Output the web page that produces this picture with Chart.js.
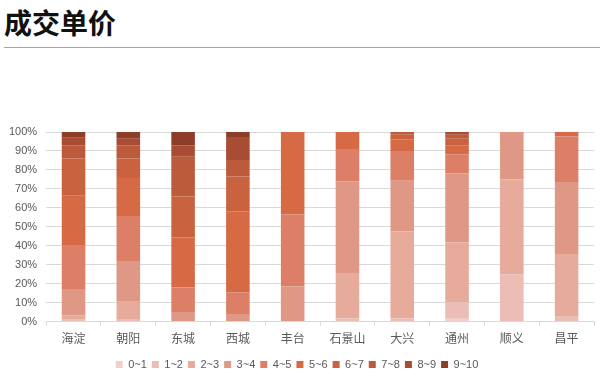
<!DOCTYPE html>
<html>
<head>
<meta charset="utf-8">
<script src="https://cdn.jsdelivr.net/npm/chart.js@4"></script>
<style>
    body { margin: 0; background: #fff; width: 600px; height: 388px; overflow: hidden; position: relative; }
    .titre {
        position: absolute; left: 4px; top: 4px; width: 596px; height: 43px;
        font: bold 28px 'Noto Sans CJK SC', sans-serif; color: #111;
        line-height: 36px; border-bottom: 1px solid #a6a6a6;
    }
    .zone { position: absolute; left: 0; top: 48px; width: 600px; height: 340px; }
</style>
</head>
<body>
<div class="titre">成交单价</div>
<div class="zone"><canvas id="prixChart"></canvas></div>
<script>
// Districts
const districts = ['海淀', '朝阳', '东城', '西城', '丰台', '石景山', '大兴', '通州', '顺义', '昌平'];
// Tranches de prix (légende)
const tranches = ['0~1', '1~2', '2~3', '3~4', '4~5', '5~6', '6~7', '7~8', '8~9', '9~10'];
const couleurs = ['#f2d0c9', '#ecbdb4', '#e7ab9c', '#e09886', '#dc7f66', '#d66a44', '#c9633f', '#bb5b3b', '#a84d33', '#8e3d28'];

// Parts en % par tranche, dans l'ordre des districts
const t0_1  = [0,    0,    0,    0,    0,    0,    0,    1.5,  0,  0];
const t1_2  = [1,    1,    0,    0,    0,    1.7,  1.7,  8.6,  25, 2.6];
const t2_3  = [2.3,  9.8,  0,    0,    0,    23.9, 45.8, 31.6, 50, 33.1];
const t3_4  = [13.9, 21.2, 5,    4,    18.6, 48.3, 26.8, 36.6, 25, 37.9];
const t4_5  = [22.8, 23.7, 13,   11.5, 37.9, 17.1, 15.7, 9.9,  0,  24.1];
const t5_6  = [26.4, 20,   26.3, 42.7, 43.5, 9,    6.2,  4.5,  0,  2.3];
const t6_7  = [19.6, 10.3, 21.7, 18.3, 0,    0,    2.3,  3.8,  0,  0];
const t7_8  = [7,    7,    21,   8.7,  0,    0,    1.5,  2,    0,  0];
const t8_9  = [4,    3.5,  6,    12.2, 0,    0,    0,    1.5,  0,  0];
const t9_10 = [3,    3.5,  7,    2.6,  0,    0,    0,    0,    0,  0];

const series = [t0_1, t1_2, t2_3, t3_4, t4_5, t5_6, t6_7, t7_8, t8_9, t9_10];
const yTicks = [0, 10, 20, 30, 40, 50, 60, 70, 80, 90, 100];

const police = "'Liberation Sans', 'Noto Sans CJK SC', sans-serif";

new Chart(document.getElementById('prixChart'), {
    type: 'bar',
    data: {
        labels: districts,
        datasets: series.map((valeurs, i) => ({
            label: tranches[i],
            data: valeurs,
            backgroundColor: couleurs[i],
            borderWidth: 0,
            categoryPercentage: 1,
            barPercentage: 0.43
        }))
    },
    options: {
        responsive: true,
        maintainAspectRatio: false,
        animation: false,
        layout: { padding: { top: 84, right: 6, left: 0, bottom: 8 } },
        plugins: {
            legend: {
                position: 'bottom',
                labels: {
                    boxWidth: 7,
                    boxHeight: 7,
                    padding: 5,
                    color: '#595959',
                    font: { size: 11, family: police }
                }
            },
            tooltip: { enabled: false }
        },
        scales: {
            x: {
                stacked: true,
                grid: { drawOnChartArea: false, color: '#d9d9d9', tickLength: 4 },
                border: { color: '#d9d9d9' },
                ticks: { color: '#595959', font: { size: 12, family: police }, padding: 7 }
            },
            y: {
                stacked: true,
                min: 0,
                max: 100,
                afterBuildTicks: axis => { axis.ticks = yTicks.map(v => ({ value: v })); },
                grid: { color: '#d9d9d9', drawTicks: false },
                border: { display: false },
                ticks: {
                    color: '#595959',
                    padding: 9,
                    font: { size: 11, family: police },
                    callback: v => v + '%'
                }
            }
        }
    }
});
</script>
</body>
</html>
